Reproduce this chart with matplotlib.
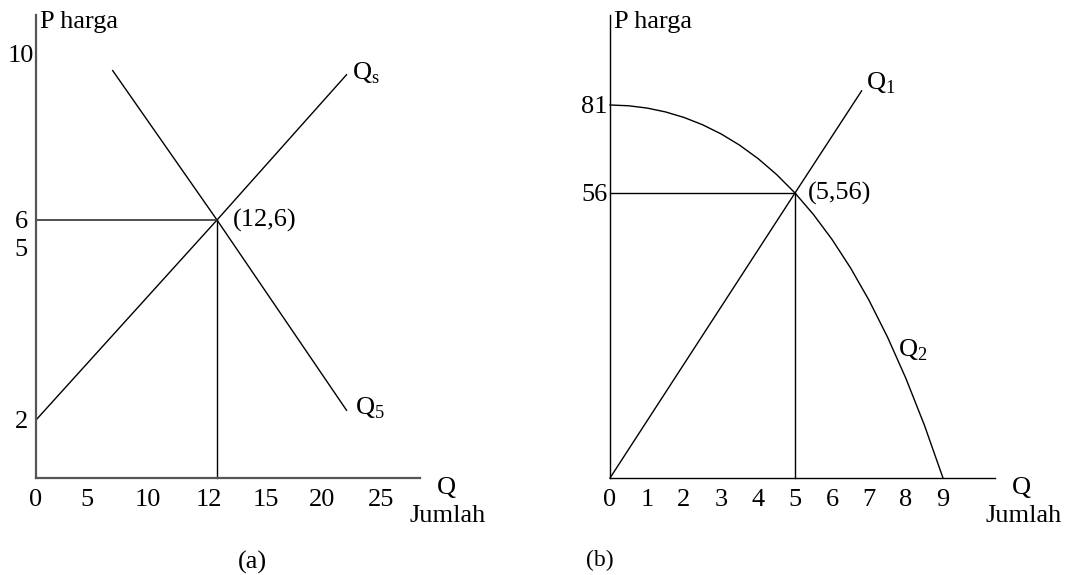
import numpy as np
import matplotlib
matplotlib.use("Agg")
import matplotlib.pyplot as plt

plt.rcParams["font.family"] = "Liberation Serif"
plt.rcParams["mathtext.fontset"] = "custom"
plt.rcParams["mathtext.rm"] = "Liberation Serif"
plt.rcParams["font.size"] = 19

# ================================================================
# (a) linear supply and demand, equilibrium at (12, 6)
# ================================================================
a_xticks = [0, 5, 10, 12, 15, 20, 25]
a_yticks = [2, 5, 6, 10]
eq_a = (12, 6)
supply_q = [0, 12, 21.4]
supply_p = [2, 6, 9.5]
demand_q = [6.45, 12, 21.4]
demand_p = [9.6, 6, 2.17]

# ================================================================
# (b) Q1 through the origin, Q2 bending down from 81 to 9
# ================================================================
b_xticks = [0, 1, 2, 3, 4, 5, 6, 7, 8, 9]
b_yticks = [56, 81]
eq_b = (5, 56)
q1_q = [0, 5, 6.8]
q1_p = [0, 56, 85.8]
q2_q = [0, 0.5, 1, 1.5, 2, 2.5, 3, 3.5, 4, 4.5, 5,
        5.5, 6, 6.5, 7, 7.5, 8, 8.5, 9]
q2_p = [81, 80.75, 80, 78.75, 77, 74.75, 72, 68.75, 65, 60.75, 56,
        50.75, 45, 38.75, 32, 24.75, 17, 8.75, 0]

# ----------------------------------------------------------------
# The sketch is not drawn to scale, so each axis gets its own
# spacing (distance from the origin in px for each value).
# ----------------------------------------------------------------
A_X_VALS, A_X_PX = [0, 5, 10, 12, 15, 20, 25], [0, 59, 120, 181, 238, 294, 353]
A_Y_VALS, A_Y_PX = [0, 2, 5, 6, 10], [0, 58, 230, 258, 424]
AX_W, AX_H = 384, 463          # axis lengths in px
B_PX_PER_Q = 37.0
B_A, B_B = 6.1742, 0.019373    # price axis squeezed towards the top


def piecewise(vals, px):
    vals = np.asarray(vals, float)
    px = np.asarray(px, float)

    def extend(v, xs, ys):
        v = np.asarray(v, float)
        out = np.interp(v, xs, ys)
        lo = (ys[1] - ys[0]) / (xs[1] - xs[0])
        hi = (ys[-1] - ys[-2]) / (xs[-1] - xs[-2])
        out = np.where(v < xs[0], ys[0] + (v - xs[0]) * lo, out)
        out = np.where(v > xs[-1], ys[-1] + (v - xs[-1]) * hi, out)
        return out

    return (lambda v: extend(v, vals, px)), (lambda p: extend(p, px, vals))


def b_fwd(p):
    p = np.asarray(p, float)
    return B_A * p - B_B * p**2


def b_inv(h):
    h = np.asarray(h, float)
    return (B_A - np.sqrt(np.maximum(B_A**2 - 4 * B_B * h, 0))) / (2 * B_B)


fig = plt.figure(figsize=(10.67, 5.75), dpi=100)
W, H = 1067, 575
ax_a = fig.add_axes([36 / W, 97 / H, AX_W / W, AX_H / H])
ax_b = fig.add_axes([610 / W, 97 / H, 385 / W, AX_H / H])

LINE = dict(color="black", lw=1.0, clip_on=False)

# ---------------- panel (a) ----------------
ax_fx, ax_ix = piecewise(A_X_VALS, A_X_PX)
ay_fx, ay_ix = piecewise(A_Y_VALS, A_Y_PX)
ax_a.set_xscale("function", functions=(ax_fx, ax_ix))
ax_a.set_yscale("function", functions=(ay_fx, ay_ix))

ax_a.plot(supply_q, supply_p, **LINE)
ax_a.plot(demand_q, demand_p, **LINE)
ax_a.plot([0, eq_a[0]], [eq_a[1], eq_a[1]], color="#333333", lw=1.2, clip_on=False)
ax_a.plot([eq_a[0], eq_a[0]], [0, eq_a[1]], **LINE)

# labels past the origin sit a little left of their marks
shift = np.where(np.array(a_xticks) > 0, 8, 0)
xt = ax_ix(ax_fx(np.array(a_xticks, float)) - shift)
ax_a.set_xticks(xt, labels=[str(v) for v in a_xticks])
ax_a.set_yticks(a_yticks, labels=[str(v) for v in a_yticks])
ax_a.set_xlim(0, float(ax_ix(AX_W)))
ax_a.set_ylim(0, float(ay_ix(AX_H)))
ax_a.tick_params(axis="x", length=0, pad=7.9)
ax_a.tick_params(axis="y", length=0, pad=10.8)
for lab in ax_a.get_yticklabels():
    lab.set_horizontalalignment("center")

for side in ["top", "right"]:
    ax_a.spines[side].set_visible(False)
for side in ["left", "bottom"]:
    ax_a.spines[side].set_color("#555555")
    ax_a.spines[side].set_linewidth(1.6)

ax_a.annotate(r"Q$_\mathrm{s}$", xy=(supply_q[-1], supply_p[-1]), xytext=(5, 2),
              textcoords="offset pixels", ha="left", va="center")
ax_a.annotate(r"Q$_5$", xy=(demand_q[-1], demand_p[-1]), xytext=(8, 2),
              textcoords="offset pixels", ha="left", va="center")
ax_a.annotate("(12,6)", xy=eq_a, xytext=(16, 0),
              textcoords="offset pixels", ha="left", va="center")

# ---------------- panel (b) ----------------
ax_b.set_yscale("function", functions=(b_fwd, b_inv))

ax_b.plot(q2_q, q2_p, **LINE)
ax_b.plot(q1_q, q1_p, **LINE)
ax_b.plot([0, eq_b[0]], [eq_b[1], eq_b[1]], **LINE)
ax_b.plot([eq_b[0], eq_b[0]], [0, eq_b[1]], **LINE)

ax_b.set_xticks(b_xticks, labels=[str(v) for v in b_xticks])
ax_b.set_yticks(b_yticks, labels=[str(v) for v in b_yticks])
ax_b.set_xlim(0, 385 / B_PX_PER_Q)
ax_b.set_ylim(0, float(b_inv(AX_H)))
ax_b.tick_params(axis="x", length=0, pad=7.9)
ax_b.tick_params(axis="y", length=0, pad=1.5)

for side in ["top", "right"]:
    ax_b.spines[side].set_visible(False)
for side in ["left", "bottom"]:
    ax_b.spines[side].set_color("black")
    ax_b.spines[side].set_linewidth(1.0)

ax_b.annotate(r"Q$_1$", xy=(q1_q[-1], q1_p[-1]), xytext=(4, 8),
              textcoords="offset pixels", ha="left", va="center")
ax_b.annotate(r"Q$_2$", xy=(7.66, 22.3), xytext=(5, 0),
              textcoords="offset pixels", ha="left", va="center")
ax_b.annotate("(5,56)", xy=eq_b, xytext=(13, 0),
              textcoords="offset pixels", ha="left", va="center")

# axis captions
for ax in (ax_a, ax_b):
    ax.annotate("P harga", xy=(0, 1), xycoords="axes fraction", xytext=(4, -13),
                textcoords="offset pixels", ha="left", va="baseline")
    ax.annotate("Q", xy=(1, 0), xycoords="axes fraction", xytext=(26, -10),
                textcoords="offset pixels", ha="center", va="center")
    ax.annotate("Jumlah", xy=(1, 0), xycoords="axes fraction", xytext=(-10, -38),
                textcoords="offset pixels", ha="left", va="center")

fig.text(252 / W, 1 - 562 / H, "(a)", ha="center", va="center", fontsize=19)
fig.text(600 / W, 1 - 560 / H, "(b)", ha="center", va="center", fontsize=17)

fig.savefig("out.png", dpi=100)
